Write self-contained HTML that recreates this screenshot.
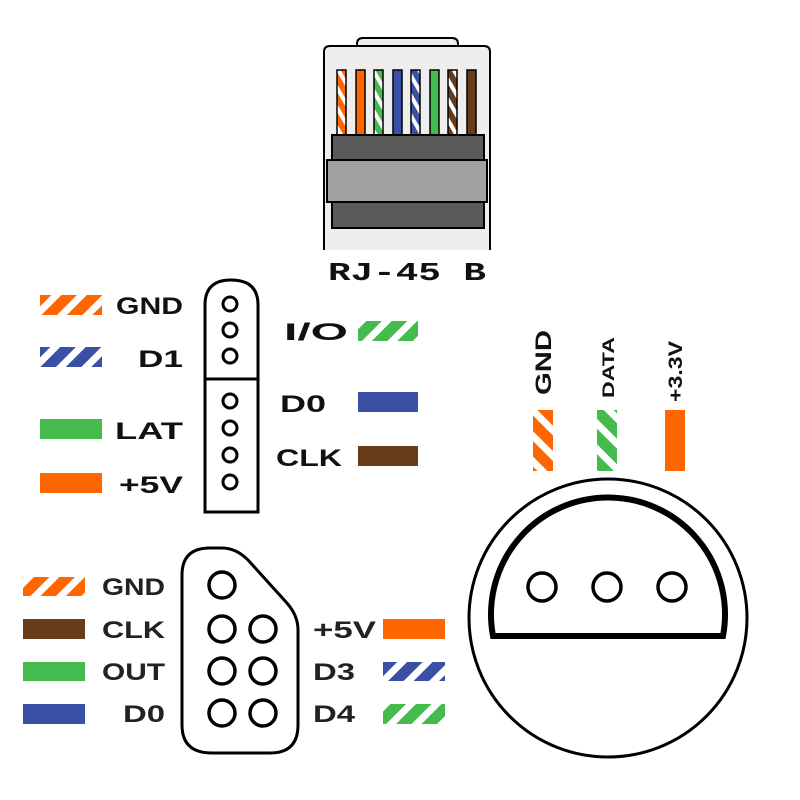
<!DOCTYPE html>
<html><head><meta charset="utf-8"><style>html,body{margin:0;padding:0;background:#fff}svg{display:block}</style></head>
<body>
<svg width="800" height="800" viewBox="0 0 800 800" xmlns="http://www.w3.org/2000/svg" font-family="Liberation Sans, sans-serif" font-weight="bold">
<defs>
<pattern id="sO" patternUnits="userSpaceOnUse" width="18" height="18" patternTransform="rotate(45)"><rect width="18" height="18" fill="#fff"/><rect width="11" height="18" fill="#ff6600"/></pattern>
<pattern id="sB" patternUnits="userSpaceOnUse" width="18" height="18" patternTransform="rotate(45)"><rect width="18" height="18" fill="#fff"/><rect width="11" height="18" fill="#3a50a5"/></pattern>
<pattern id="sG" patternUnits="userSpaceOnUse" width="18" height="18" patternTransform="rotate(45)"><rect width="18" height="18" fill="#fff"/><rect width="11" height="18" fill="#44bb4c"/></pattern>
<pattern id="vO" patternUnits="userSpaceOnUse" width="18" height="18" patternTransform="rotate(-45)"><rect width="18" height="18" fill="#fff"/><rect width="11" height="18" fill="#ff6600"/></pattern>
<pattern id="vG" patternUnits="userSpaceOnUse" width="18" height="18" patternTransform="rotate(-45)"><rect width="18" height="18" fill="#fff"/><rect width="11" height="18" fill="#44bb4c"/></pattern>
<pattern id="sN" patternUnits="userSpaceOnUse" width="10" height="10" patternTransform="rotate(-30)"><rect width="10" height="10" fill="#fff"/><rect width="6" height="10" fill="#663c1a"/></pattern>
<pattern id="wO" patternUnits="userSpaceOnUse" width="10" height="10" patternTransform="rotate(-30)"><rect width="10" height="10" fill="#fff"/><rect width="6" height="10" fill="#ff6600"/></pattern>
<pattern id="wB" patternUnits="userSpaceOnUse" width="10" height="10" patternTransform="rotate(-30)"><rect width="10" height="10" fill="#fff"/><rect width="6" height="10" fill="#3a50a5"/></pattern>
<pattern id="wG" patternUnits="userSpaceOnUse" width="10" height="10" patternTransform="rotate(-30)"><rect width="10" height="10" fill="#fff"/><rect width="6" height="10" fill="#44bb4c"/></pattern>
</defs>

<!-- RJ45 -->
<g>
<path d="M357,46 V44 Q357,38 363,38 H452 Q458,38 458,44 V46" fill="#eee" stroke="#000" stroke-width="2"/>
<path d="M324,250 V52 Q324,46 330,46 H484 Q490,46 490,52 V250" fill="#eee" stroke="#000" stroke-width="2"/>
<g stroke="#000" stroke-width="1.5">
<rect x="337" y="70" width="9" height="66" fill="url(#wO)"/>
<rect x="356" y="70" width="9" height="66" fill="#ff6600"/>
<rect x="374" y="70" width="9" height="66" fill="url(#wG)"/>
<rect x="393" y="70" width="9" height="66" fill="#3a50a5"/>
<rect x="411" y="70" width="9" height="66" fill="url(#wB)"/>
<rect x="430" y="70" width="9" height="66" fill="#44bb4c"/>
<rect x="448" y="70" width="9" height="66" fill="url(#sN)"/>
<rect x="467" y="70" width="9" height="66" fill="#663c1a"/>
</g>
<rect x="332" y="135" width="152" height="93" fill="#5a5a5a" stroke="#000" stroke-width="2"/>
<rect x="327" y="160" width="160" height="42" fill="#a0a0a0" stroke="#000" stroke-width="2"/>
<text x="407" y="280" font-family="Liberation Mono, monospace" font-size="26" text-anchor="middle" textLength="158" lengthAdjust="spacingAndGlyphs" fill="#111">RJ-45 B</text>
</g>

<!-- Middle-left connector -->
<g>
<path d="M205,512 V305 Q205,280 231,280 Q258,280 258,305 V512 Z" fill="#fff" stroke="#000" stroke-width="3"/>
<line x1="205" y1="379" x2="258" y2="379" stroke="#000" stroke-width="3"/>
<g fill="none" stroke="#000" stroke-width="3">
<circle cx="230" cy="304" r="7"/><circle cx="230" cy="330" r="7"/><circle cx="230" cy="356" r="7"/>
<circle cx="230" cy="401" r="7"/><circle cx="230" cy="428" r="7"/><circle cx="230" cy="455" r="7"/><circle cx="230" cy="482" r="7"/>
</g>
</g>
<g font-size="24" fill="#111">
<rect x="40" y="295" width="62" height="20" fill="url(#sO)"/>
<text x="183" y="314" text-anchor="end" textLength="67" lengthAdjust="spacingAndGlyphs">GND</text>
<rect x="40" y="347" width="62" height="20" fill="url(#sB)"/>
<text x="183" y="367" text-anchor="end" textLength="45" lengthAdjust="spacingAndGlyphs">D1</text>
<rect x="40" y="419" width="62" height="20" fill="#44bb4c"/>
<text x="183" y="439" text-anchor="end" textLength="68" lengthAdjust="spacingAndGlyphs">LAT</text>
<rect x="40" y="473" width="62" height="20" fill="#ff6600"/>
<text x="183" y="493" text-anchor="end" textLength="64" lengthAdjust="spacingAndGlyphs">+5V</text>
<text x="284" y="340" textLength="64" lengthAdjust="spacingAndGlyphs">I/O</text>
<rect x="358" y="321" width="60" height="20" fill="url(#sG)"/>
<text x="280" y="412" textLength="46" lengthAdjust="spacingAndGlyphs">D0</text>
<rect x="358" y="392" width="60" height="20" fill="#3a50a5"/>
<text x="276" y="466" textLength="66" lengthAdjust="spacingAndGlyphs">CLK</text>
<rect x="358" y="446" width="60" height="20" fill="#663c1a"/>
</g>

<!-- Bottom-left connector -->
<g>
<path d="M182,575 Q182,548 210,548 H222 Q236,548 248,560 L286,602 Q298,615 298,630 V725 Q298,753 270,753 H212 Q182,753 182,725 Z" fill="#fff" stroke="#000" stroke-width="3"/>
<g fill="none" stroke="#000" stroke-width="3.5">
<circle cx="222" cy="585" r="13"/>
<circle cx="222" cy="629" r="13"/><circle cx="263" cy="629" r="13"/>
<circle cx="222" cy="671" r="13"/><circle cx="263" cy="671" r="13"/>
<circle cx="222" cy="713" r="13"/><circle cx="263" cy="713" r="13"/>
</g>
</g>
<g font-size="24" fill="#222">
<rect x="23" y="577" width="62" height="19" fill="url(#sO)"/>
<text x="165" y="595" text-anchor="end" textLength="63" lengthAdjust="spacingAndGlyphs">GND</text>
<rect x="23" y="619" width="62" height="20" fill="#663c1a"/>
<text x="165" y="638" text-anchor="end" textLength="63" lengthAdjust="spacingAndGlyphs">CLK</text>
<rect x="23" y="662" width="62" height="19" fill="#44bb4c"/>
<text x="165" y="680" text-anchor="end" textLength="63" lengthAdjust="spacingAndGlyphs">OUT</text>
<rect x="23" y="704" width="62" height="20" fill="#3a50a5"/>
<text x="165" y="722" text-anchor="end" textLength="42" lengthAdjust="spacingAndGlyphs">D0</text>
<text x="313" y="638" textLength="63" lengthAdjust="spacingAndGlyphs">+5V</text>
<rect x="383" y="619" width="62" height="20" fill="#ff6600"/>
<text x="313" y="680" textLength="42" lengthAdjust="spacingAndGlyphs">D3</text>
<rect x="383" y="662" width="62" height="19" fill="url(#sB)"/>
<text x="313" y="722" textLength="42" lengthAdjust="spacingAndGlyphs">D4</text>
<rect x="383" y="704" width="62" height="20" fill="url(#sG)"/>
</g>

<!-- Round 3-pin connector -->
<g>
<circle cx="608" cy="618" r="139" fill="#fff" stroke="#000" stroke-width="3"/>
<path d="M493,636 A117,117 0 1 1 723,636 Z" fill="#fff" stroke="#000" stroke-width="6"/>
<g fill="none" stroke="#000" stroke-width="3.5">
<circle cx="542" cy="587" r="14"/><circle cx="607" cy="587" r="14"/><circle cx="672" cy="587" r="14"/>
</g>
<rect x="533" y="410" width="20" height="61" fill="url(#vO)"/>
<rect x="597" y="410" width="20" height="61" fill="url(#vG)"/>
<rect x="665" y="410" width="20" height="61" fill="#ff6600"/>
<text transform="translate(551,395) rotate(-90)" font-size="22" fill="#111" textLength="65" lengthAdjust="spacingAndGlyphs">GND</text>
<text transform="translate(614,398) rotate(-90)" font-size="17" fill="#111" textLength="61" lengthAdjust="spacingAndGlyphs">DATA</text>
<text transform="translate(682,402) rotate(-90)" font-size="19" fill="#111" textLength="61" lengthAdjust="spacingAndGlyphs">+3.3V</text>
</g>
</svg>
</body></html>
